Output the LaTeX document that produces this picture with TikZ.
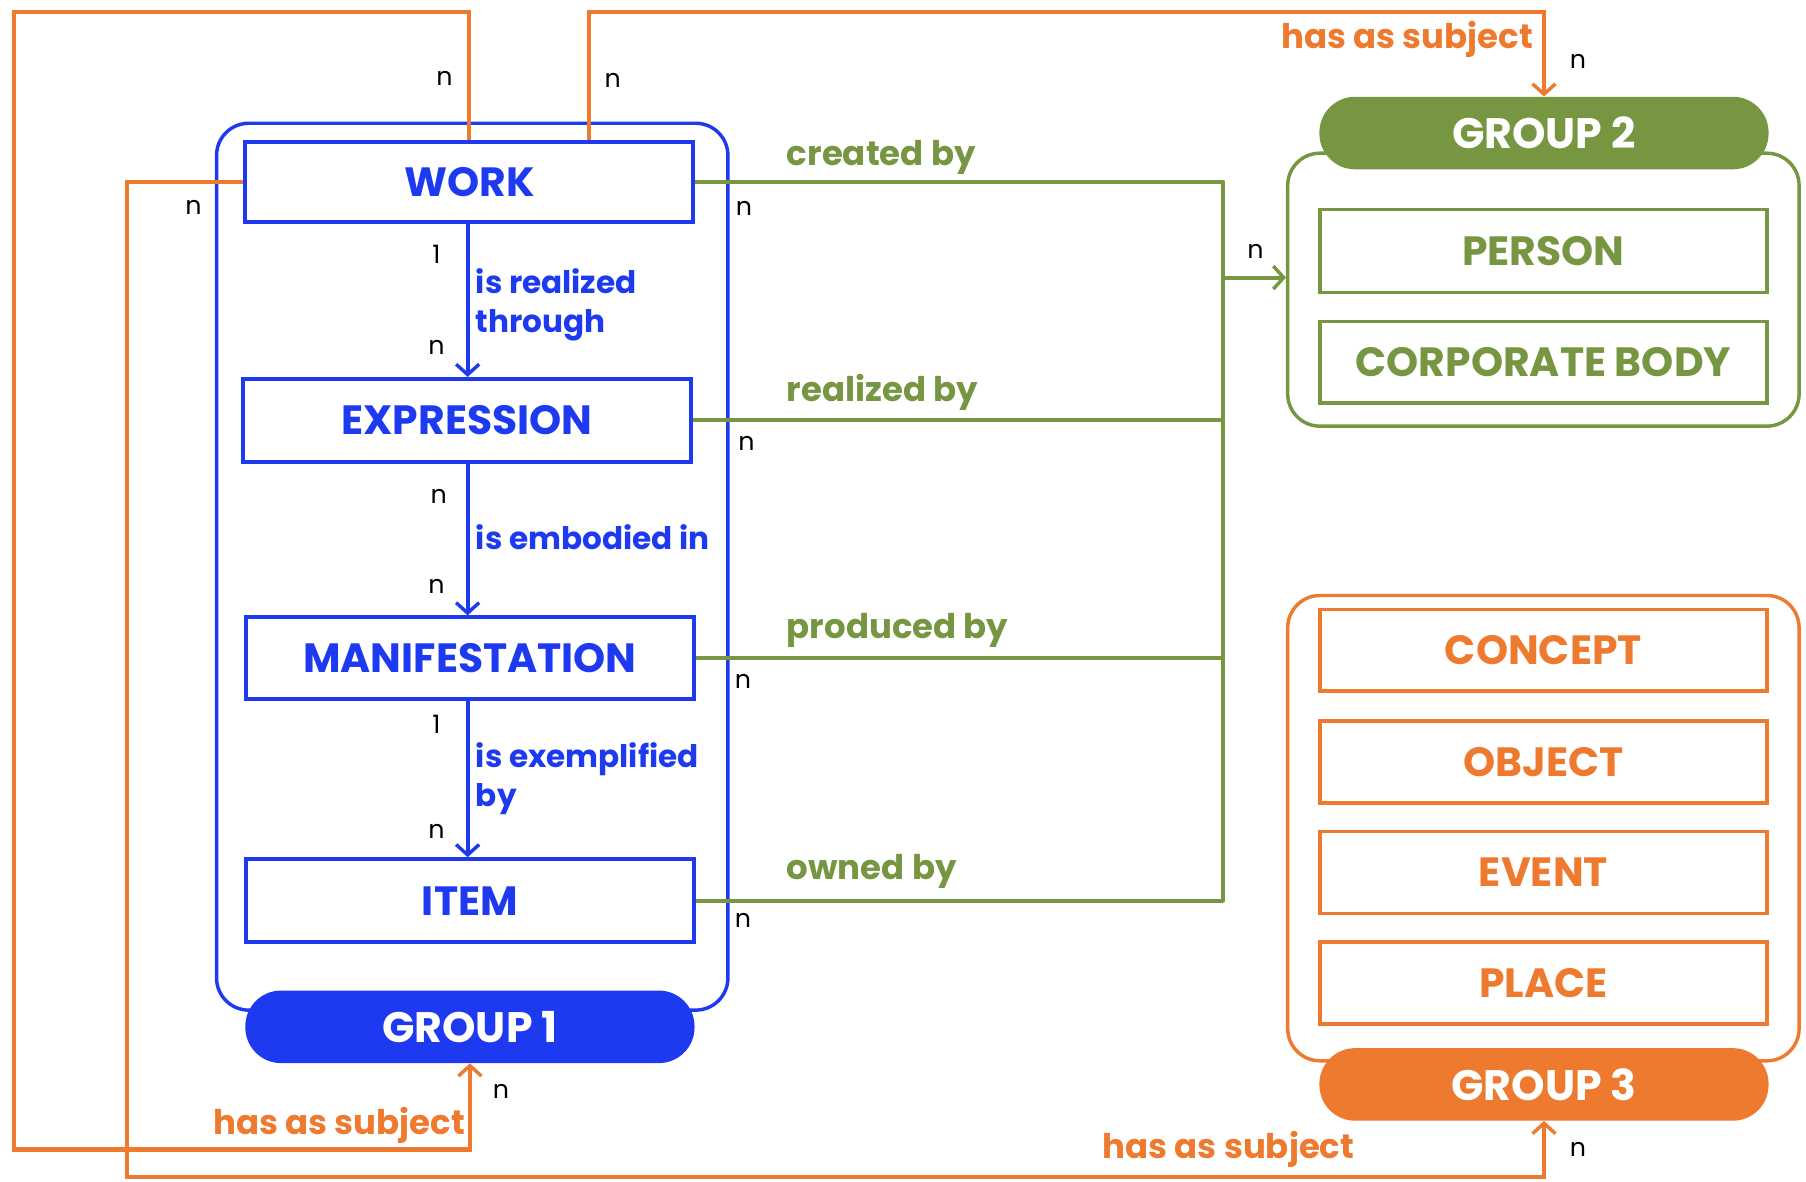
\documentclass[tikz,border=0pt]{standalone}
\usepackage{fontspec}
\setmainfont{Poppins}
\usetikzlibrary{arrows.meta,calc}
\definecolor{fblue}{RGB}{30,58,240}
\definecolor{fgreen}{RGB}{118,150,66}
\definecolor{forange}{RGB}{238,122,48}
\begin{document}
\begin{tikzpicture}[x=1pt,y=-1pt,
  ent/.style={draw, line width=3.5pt, minimum width=389pt, minimum height=70pt, inner sep=0pt,
    font=\bfseries\fontsize{35.5}{35.5}\selectfont},
  pill/.style={rounded corners=31pt, minimum width=390pt, minimum height=63pt, inner sep=0pt,
    text=white, font=\bfseries\fontsize{37}{37}\selectfont},
  frame/.style={draw, line width=3pt, rounded corners=28pt},
  tip/.style={-{Straight Barb[length=9pt,width=20pt,line width=3pt]}},
  bluelink/.style={draw=fblue, line width=3.5pt, tip},
  greenlink/.style={draw=fgreen, line width=3.5pt},
  orangelink/.style={draw=forange, line width=3.5pt},
  rel/.style={font=\bfseries\fontsize{27}{34}\selectfont, inner sep=0pt},
  relwide/.style={font=\bfseries\fontsize{29.5}{34}\selectfont, inner sep=0pt},
  card/.style={font=\fontsize{22}{22}\selectfont, text=black, inner sep=0pt},
]
\useasboundingbox (0,0) rectangle (1568,1026);

% ---------- Group 1 ----------
\node[frame, draw=fblue, minimum width=444pt, minimum height=770pt] (g1box) at (410,492) {};
\node[ent, draw=fblue, text=fblue] (work) at (407.5,158) {WORK};
\node[ent, draw=fblue, text=fblue, minimum height=72pt] (expr) at (405.5,365) {EXPRESSION};
\node[ent, draw=fblue, text=fblue, minimum height=71pt] (mani) at (408,571.5) {MANIFESTATION};
\node[ent, draw=fblue, text=fblue, minimum height=72pt] (item) at (408,782) {ITEM};
\node[pill, fill=fblue] (g1) at (408,891.5) {GROUP 1};

\coordinate (spine) at (406,0);
\draw[bluelink] (work.south -| spine) -- (expr.north -| spine);
\draw[bluelink] (expr.south -| spine) -- (mani.north -| spine);
\draw[bluelink] (mani.south -| spine) -- (item.north -| spine);

\node[rel, text=fblue, align=left, anchor=west] at (413,265) {is realized\\through};
\node[rel, text=fblue, anchor=west] at (413,466) {is embodied in};
\node[rel, text=fblue, align=left, anchor=west] at (413,676) {is exemplified\\by};

\node[card] at (379,221) {1};
\node[card] at (379,302) {n};
\node[card] at (381,431) {n};
\node[card] at (379,509) {n};
\node[card] at (379,629) {1};
\node[card] at (379,722) {n};

% ---------- Group 2 ----------
\node[frame, draw=fgreen, minimum width=444pt, minimum height=237pt] (g2box) at (1340,251.5) {};
\node[pill, fill=fgreen] (g2) at (1340.5,115.5) {GROUP 2};
\node[ent, draw=fgreen, text=fgreen, line width=3pt, minimum width=388pt, minimum height=72pt] (person) at (1340,218) {PERSON};
\node[ent, draw=fgreen, text=fgreen, line width=3pt, minimum width=388pt, minimum height=71pt] (corp) at (1340,314.5) {CORPORATE BODY};

% ---------- Group 3 ----------
\node[frame, draw=forange, minimum width=444pt, minimum height=404pt] (g3box) at (1340,719) {};
\node[ent, draw=forange, text=forange, line width=3pt, minimum width=388pt, minimum height=71pt] (concept) at (1340,564.5) {CONCEPT};
\node[ent, draw=forange, text=forange, line width=3pt, minimum width=388pt, minimum height=71pt] (object) at (1340,661.5) {OBJECT};
\node[ent, draw=forange, text=forange, line width=3pt, minimum width=388pt, minimum height=71pt] (event) at (1340,757.5) {EVENT};
\node[ent, draw=forange, text=forange, line width=3pt, minimum width=388pt, minimum height=71pt] (place) at (1340,853.5) {PLACE};
\node[pill, fill=forange] (g3) at (1340.5,941.5) {GROUP 3};

% ---------- Group 1 to Group 2 (responsibility) ----------
\coordinate (bus) at (1062,0);
\coordinate (busin) at (1062,241);
\draw[greenlink] (work.east) -- (work.east -| bus);
\draw[greenlink] (expr.east) -- (expr.east -| bus);
\draw[greenlink] (mani.east) -- (mani.east -| bus);
\draw[greenlink] (item.east) -- (item.east -| bus);
\draw[greenlink, line cap=round] (work.east -| bus) -- (item.east -| bus);
\draw[greenlink, tip] (busin) -- (busin -| g2box.west);

\node[relwide, text=fgreen, anchor=west] at (683,137) {created by};
\node[relwide, text=fgreen, anchor=west] at (683,341) {realized by};
\node[relwide, text=fgreen, anchor=west] at (683,547) {produced by};
\node[relwide, text=fgreen, anchor=west] at (683,757) {owned by};

\node[card] at (646,181) {n};
\node[card] at (648,385) {n};
\node[card] at (645,592) {n};
\node[card] at (645,799) {n};
\node[card] at (1090,218) {n};

% ---------- subject relationships ----------
\coordinate (ytop) at (0,10);
\coordinate (cA1) at (12,10);
\coordinate (cA2) at (12,998);
\coordinate (cC) at (110,1022);
\draw[orangelink, tip] (work.north) |- (cA1) -- (cA2) -| (g1.south);
\draw[orangelink, tip] ([xshift=104pt]work.north) |- (g2.north |- ytop) -- (g2.north);
\draw[orangelink, tip] (work.west) -| (cC) -| (g3.south);

\node[relwide, text=forange, anchor=east] at (404,977) {has as subject};
\node[relwide, text=forange, anchor=east] at (1331,34) {has as subject};
\node[relwide, text=forange, anchor=east] at (1176,998) {has as subject};

\node[card] at (386,68) {n};
\node[card] at (532,70) {n};
\node[card] at (168,180) {n};
\node[card] at (1370,53) {n};
\node[card] at (435,948) {n};
\node[card] at (1370,998) {n};
\end{tikzpicture}
\end{document}
